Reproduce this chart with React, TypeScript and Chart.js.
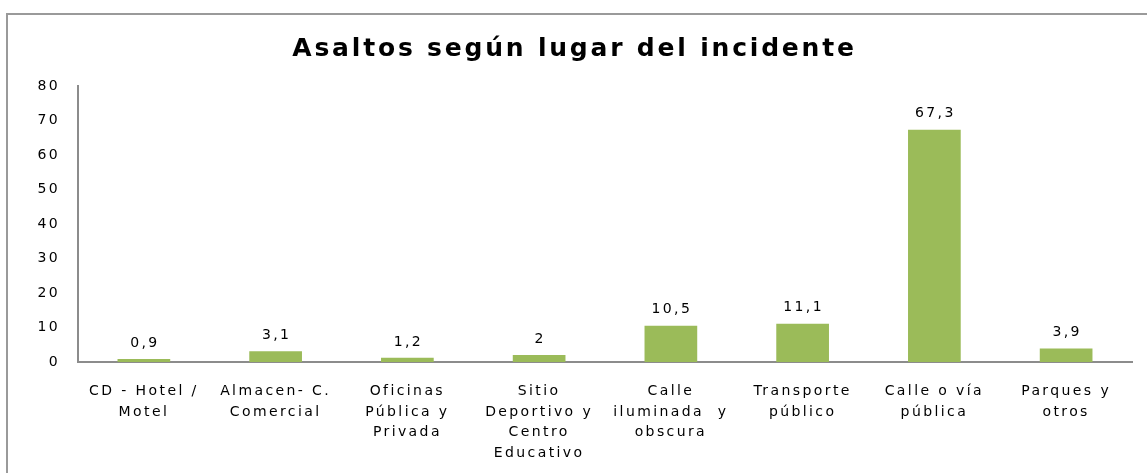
import React, { useEffect, useRef } from "react";
import { Chart, registerables } from "chart.js";

Chart.register(...registerables);

const titleText = "Asaltos según lugar del incidente";
const categories: string[][] = [
  ["CD - Hotel /", "Motel"],
  ["Almacen- C.", "Comercial"],
  ["Oficinas", "Pública y", "Privada"],
  ["Sitio", "Deportivo y", "Centro", "Educativo"],
  ["Calle", "iluminada  y", "obscura"],
  ["Transporte", "público"],
  ["Calle o vía", "pública"],
  ["Parques y", "otros"],
];
const values = [0.9, 3.1, 1.2, 2, 10.5, 11.1, 67.3, 3.9];
const yMin = 0;
const yMax = 80;
const yStep = 10;

const FONT = "'DejaVu Sans', sans-serif";
const SPACING = "2.4px";

const framePlugin = {
  id: "frameAndTitle",
  beforeDraw(chart: any) {
    const ctx = chart.ctx;
    ctx.save();
    ctx.fillStyle = "#ffffff";
    ctx.fillRect(0, 0, chart.width, chart.height);
    ctx.strokeStyle = "#9a9a9a";
    ctx.lineWidth = 2;
    ctx.strokeRect(7, 14, chart.width + 20, chart.height + 20);
    ctx.restore();
    (ctx as any).letterSpacing = SPACING;
  },
  afterDraw(chart: any) {
    const ctx = chart.ctx;
    ctx.save();
    (ctx as any).letterSpacing = "2.8px";
    ctx.fillStyle = "#000000";
    ctx.font = `bold 25px ${FONT}`;
    ctx.textAlign = "center";
    ctx.textBaseline = "middle";
    ctx.fillText(titleText, chart.width / 2 + 1, 49);
    ctx.restore();
  },
};

const dataLabelPlugin = {
  id: "dataLabels",
  afterDatasetsDraw(chart: any) {
    const ctx = chart.ctx;
    const meta = chart.getDatasetMeta(0);
    const data = chart.data.datasets[0].data as number[];
    ctx.save();
    (ctx as any).letterSpacing = SPACING;
    ctx.fillStyle = "#000000";
    ctx.font = `14px ${FONT}`;
    ctx.textAlign = "center";
    ctx.textBaseline = "middle";
    meta.data.forEach((el: any, i: number) => {
      const txt = String(data[i]).replace(".", ",");
      ctx.fillText(txt, el.x + 1, el.y - 16);
    });
    ctx.restore();
  },
};

export default function App() {
  const ref = useRef<HTMLCanvasElement | null>(null);
  useEffect(() => {
    if (!ref.current) return;
    const chart = new Chart(ref.current, {
      type: "bar",
      data: {
        labels: categories,
        datasets: [
          {
            data: values,
            backgroundColor: "#9BBB59",
            borderWidth: 0,
            barPercentage: 0.4,
            categoryPercentage: 1,
          },
        ],
      },
      options: {
        responsive: false,
        animation: false,
        layout: { padding: { top: 86, right: 15, bottom: 0, left: 0 } },
        plugins: {
          legend: { display: false },
          tooltip: { enabled: false },
          title: { display: false },
        },
        scales: {
          x: {
            grid: { display: false, drawTicks: false },
            border: { display: true, color: "#8c8c8c", width: 2 },
            ticks: {
              color: "#000000",
              font: { family: FONT, size: 14, lineHeight: 1.47 },
              padding: 19,
              maxRotation: 0,
              autoSkip: false,
            },
            afterFit: (s: any) => {
              s.height = 111;
            },
          },
          y: {
            min: yMin,
            max: yMax,
            grid: { display: false, drawTicks: false },
            border: { display: true, color: "#8c8c8c", width: 2 },
            ticks: {
              stepSize: yStep,
              color: "#000000",
              font: { family: FONT, size: 14 },
              padding: 18,
            },
            afterFit: (s: any) => {
              s.width = 78;
            },
          },
        },
      },
      plugins: [framePlugin, dataLabelPlugin],
    });
    return () => chart.destroy();
  }, []);
  return (
    <canvas
      ref={ref}
      width={1147}
      height={473}
      style={{ position: "absolute", left: 0, top: 0, width: 1147, height: 473 }}
    />
  );
}
